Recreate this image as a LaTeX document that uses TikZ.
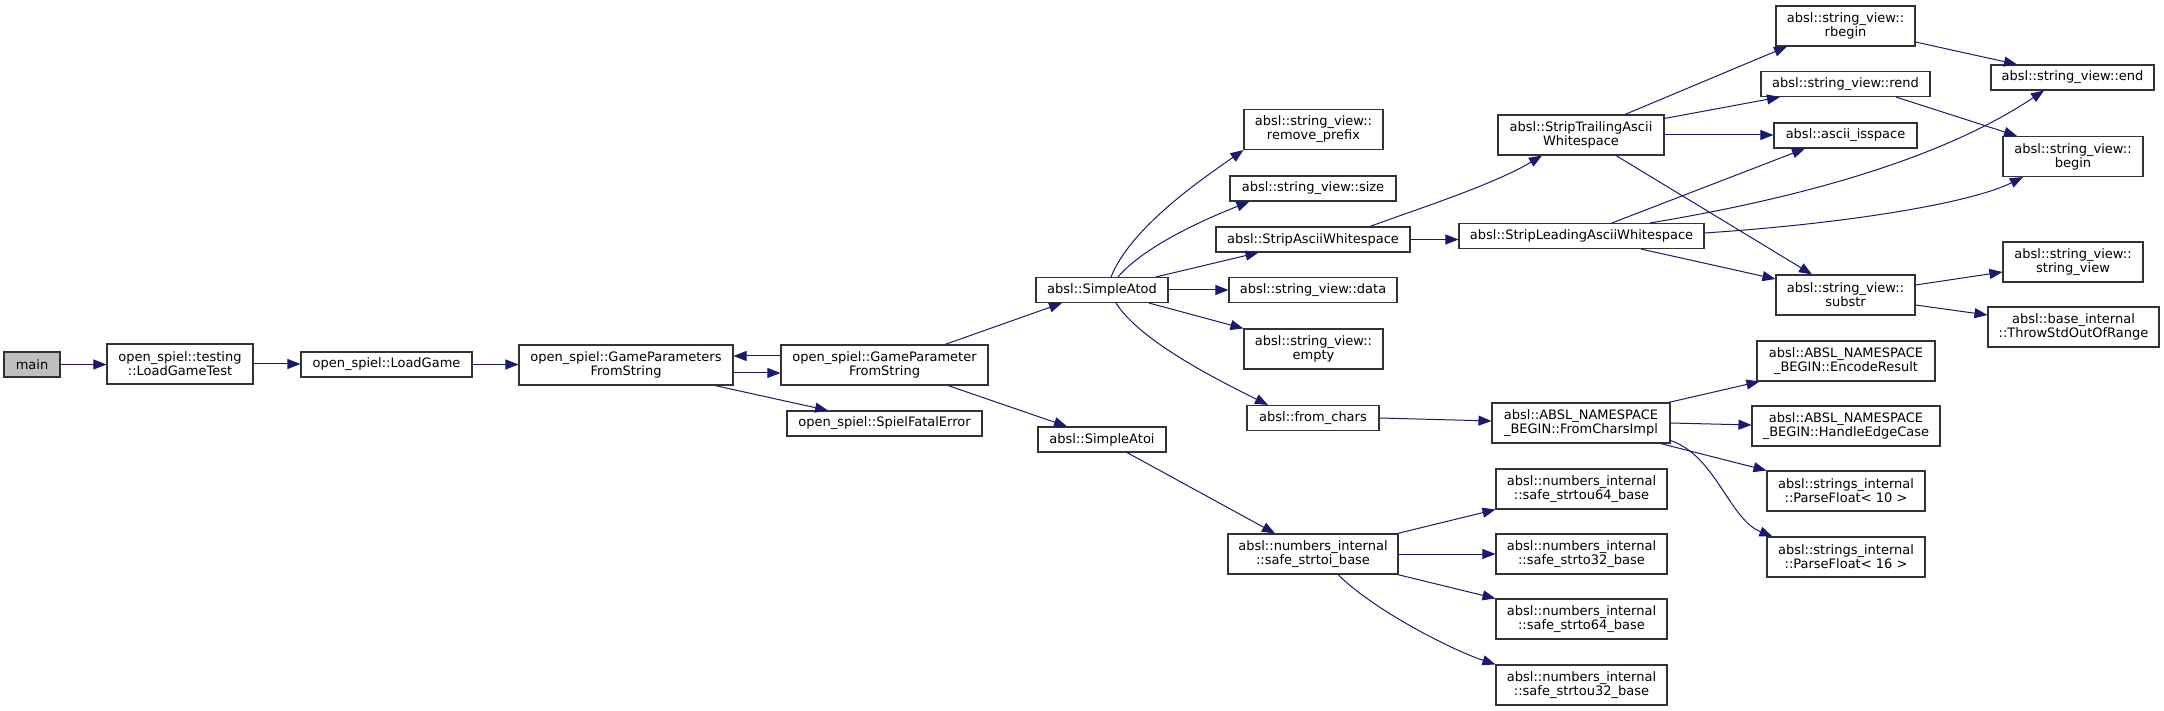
\documentclass[tikz,border=0pt]{standalone}
\usepackage{fontspec}
\setmainfont{DejaVu Sans}
\usetikzlibrary{arrows.meta,calc}
\definecolor{edgeblue}{HTML}{191970}
\definecolor{mainfill}{HTML}{BFBFBF}
\definecolor{boxline}{HTML}{333333}
\begin{document}
\begin{tikzpicture}[x=1pt,y=-1pt,
 box/.style={draw=boxline, line width=1.1pt, fill=white, inner sep=0pt, align=center, font=\fontsize{13}{14}\selectfont},
 one/.style={minimum height=25pt},
 two/.style={minimum height=40pt},
 edge/.style={draw=edgeblue, line width=1pt, -{Triangle[length=13pt,width=10pt]}}]
\useasboundingbox[fill=white] (0,0) rectangle (2164,711);

% column 1-4
\node[box,one,fill=mainfill,minimum width=56pt] (main) at (32,364.5) {main};
\node[box,two,minimum width=146pt] (ldt) at (180,364) {open\_spiel::testing\\::LoadGameTest};
\node[box,one,minimum width=171pt] (lg) at (386.5,364.5) {open\_spiel::LoadGame};
\node[box,two,minimum width=214pt] (gpfs) at (626,365) {open\_spiel::GameParameters\\FromString};
\node[box,two,minimum width=207pt] (gpfs2) at (884.5,365) {open\_spiel::GameParameter\\FromString};
\node[box,one,minimum width=195pt] (sfe) at (884.5,423.5) {open\_spiel::SpielFatalError};
\node[box,one,minimum width=132pt] (atod) at (1102,290) {absl::SimpleAtod};
\node[box,one,minimum width=128pt] (atoi) at (1102,439.5) {absl::SimpleAtoi};

% column 5
\node[box,two,minimum width=139pt] (rp) at (1313.5,129.5) {absl::string\_view::\\remove\_prefix};
\node[box,one,minimum width=166pt] (size) at (1313,188.5) {absl::string\_view::size};
\node[box,one,minimum width=194pt] (saw) at (1313,239.5) {absl::StripAsciiWhitespace};
\node[box,one,minimum width=168pt] (data) at (1313,290) {absl::string\_view::data};
\node[box,two,minimum width=139pt] (empty) at (1313.5,349) {absl::string\_view::\\empty};
\node[box,one,minimum width=132pt] (fc) at (1313,418) {absl::from\_chars};
\node[box,two,minimum width=170pt] (ssi) at (1313,554) {absl::numbers\_internal\\::safe\_strtoi\_base};

% column 6
\node[box,two,minimum width=166pt] (stw) at (1581,135) {absl::StripTrailingAscii\\Whitespace};
\node[box,one,minimum width=245pt] (slw) at (1581.5,236) {absl::StripLeadingAsciiWhitespace};
\node[box,two,minimum width=178pt] (fci) at (1581,423) {absl::ABSL\_NAMESPACE\\\_BEGIN::FromCharsImpl};
\node[box,two,minimum width=171pt] (su64) at (1581.5,489) {absl::numbers\_internal\\::safe\_strtou64\_base};
\node[box,two,minimum width=171pt] (s32) at (1581.5,554) {absl::numbers\_internal\\::safe\_strto32\_base};
\node[box,two,minimum width=171pt] (s64) at (1581.5,619) {absl::numbers\_internal\\::safe\_strto64\_base};
\node[box,two,minimum width=171pt] (su32) at (1581.5,685) {absl::numbers\_internal\\::safe\_strtou32\_base};

% column 7
\node[box,two,minimum width=139pt] (rbegin) at (1845.5,26) {absl::string\_view::\\rbegin};
\node[box,one,minimum width=169pt] (rend) at (1845.5,84) {absl::string\_view::rend};
\node[box,one,minimum width=143pt] (isspace) at (1845.5,135.5) {absl::ascii\_isspace};
\node[box,two,minimum width=139pt] (substr) at (1845.5,295) {absl::string\_view::\\substr};
\node[box,two,minimum width=178pt] (er) at (1846,361) {absl::ABSL\_NAMESPACE\\\_BEGIN::EncodeResult};
\node[box,two,minimum width=188pt] (hec) at (1846,426) {absl::ABSL\_NAMESPACE\\\_BEGIN::HandleEdgeCase};
\node[box,two,minimum width=158pt] (pf10) at (1846,491) {absl::strings\_internal\\::ParseFloat< 10 >};
\node[box,two,minimum width=158pt] (pf16) at (1846,557) {absl::strings\_internal\\::ParseFloat< 16 >};

% column 8
\node[box,one,minimum width=163pt] (end) at (2072.5,77.5) {absl::string\_view::end};
\node[box,two,minimum width=140pt] (begin) at (2073,156.5) {absl::string\_view::\\begin};
\node[box,two,minimum width=140pt] (sv) at (2073,262) {absl::string\_view::\\string\_view};
\node[box,two,minimum width=171pt] (throw) at (2073.5,327) {absl::base\_internal\\::ThrowStdOutOfRange};

% edges
\draw[edge] (main.east) -- (main.east -| ldt.west);
\draw[edge] (ldt.east) -- (ldt.east -| lg.west);
\draw[edge] (lg.east) -- (lg.east -| gpfs.west);
\draw[edge] ($(gpfs.east)+(0,8)$) -- ($(gpfs2.west)+(0,8)$);
\draw[edge] ($(gpfs2.west)+(0,-9)$) -- ($(gpfs.east)+(0,-9)$);
\draw[edge] ($(gpfs.south)+(89,0)$) -- ($(sfe.north)+(-56.5,0)$);
\draw[edge] ($(gpfs2.north)+(60.5,0)$) -- ($(atod.south)+(-40,0)$);
\draw[edge] ($(gpfs2.south)+(63.5,0)$) -- ($(atoi.north)+(-35,0)$);

\draw[edge] ($(atod.north)+(9,0)$) .. controls +(20,-50) and +(-40,28) .. (rp.south west);
\draw[edge] ($(atod.north)+(16,0)$) .. controls +(30,-35) and +(-30,12) .. ($(size.south west)+(20,0)$);
\draw[edge] ($(atod.north)+(54,0)$) -- ($(saw.south west)+(43,0)$);
\draw[edge] (atod.east) -- (atod.east -| data.west);
\draw[edge] ($(atod.south)+(47,0)$) -- (empty.north west);
\draw[edge] ($(atod.south)+(14,0)$) .. controls +(25,40) and +(-40,-20) .. ($(fc.north)+(-45,0)$);
\draw[edge] (fc.east) -- ($(fci.west)+(0,-2)$);
\draw[edge] ($(atoi.south)+(25,0)$) -- ($(ssi.north)+(-38,0)$);

\draw[edge] ($(saw.north)+(57,0)$) .. controls +(40,-15) and +(-50,30) .. ($(stw.south)+(-39,0)$);
\draw[edge] (saw.east) -- (saw.east -| slw.west);

\draw[edge] ($(stw.north)+(44,0)$) -- ($(rbegin.south)+(-58.5,0)$);
\draw[edge] ($(stw.north east)+(0,4)$) -- ($(rend.south)+(-65.5,0)$);
\draw[edge] (stw.east) -- (stw.east -| isspace.west);
\draw[edge] ($(stw.south)+(35,0)$) -- ($(substr.north)+(-33.5,0)$);

\draw[edge] ($(slw.north)+(30.5,0)$) -- ($(isspace.south)+(-40.5,0)$);
\draw[edge] ($(slw.north)+(68.5,0)$) .. controls +(230,-38) and +(-60,40) .. ($(end.south)+(-28.5,0)$);
\draw[edge] ($(slw.east)+(0,-3)$) .. controls +(150,-10) and +(-50,25) .. ($(begin.south)+(-50,0)$);
\draw[edge] ($(slw.south)+(59.5,0)$) -- ($(substr.west)+(0,-16)$);

\draw[edge] ($(rbegin.east)+(0,16)$) -- ($(end.north)+(-55.5,0)$);
\draw[edge] ($(rend.south)+(50.5,0)$) -- ($(begin.north)+(-56,0)$);
\draw[edge] ($(substr.east)+(0,-10)$) -- ($(sv.west)+(0,10)$);
\draw[edge] ($(substr.east)+(0,10)$) -- ($(throw.west)+(0,-12)$);

\draw[edge] ($(fci.north east)+(-2,0)$) -- ($(er.south west)+(3,0)$);
\draw[edge] (fci.east) -- ($(hec.west)+(0,-1)$);
\draw[edge] ($(fci.south east)+(-10,0)$) -- (pf10.north west);
\draw[edge] ($(fci.south east)+(0,-3)$) .. controls +(45,15) and +(-43,-17) .. ($(pf16.north west)+(6,0)$);

\draw[edge] ($(ssi.north east)+(-1,0)$) -- (su64.south west);
\draw[edge] (ssi.east) -- (ssi.east -| s32.west);
\draw[edge] ($(ssi.south east)+(-1,0)$) -- (s64.north west);
\draw[edge] ($(ssi.south)+(25,0)$) .. controls +(35,35) and +(-45,-15) .. (su32.north west);
\end{tikzpicture}
\end{document}
